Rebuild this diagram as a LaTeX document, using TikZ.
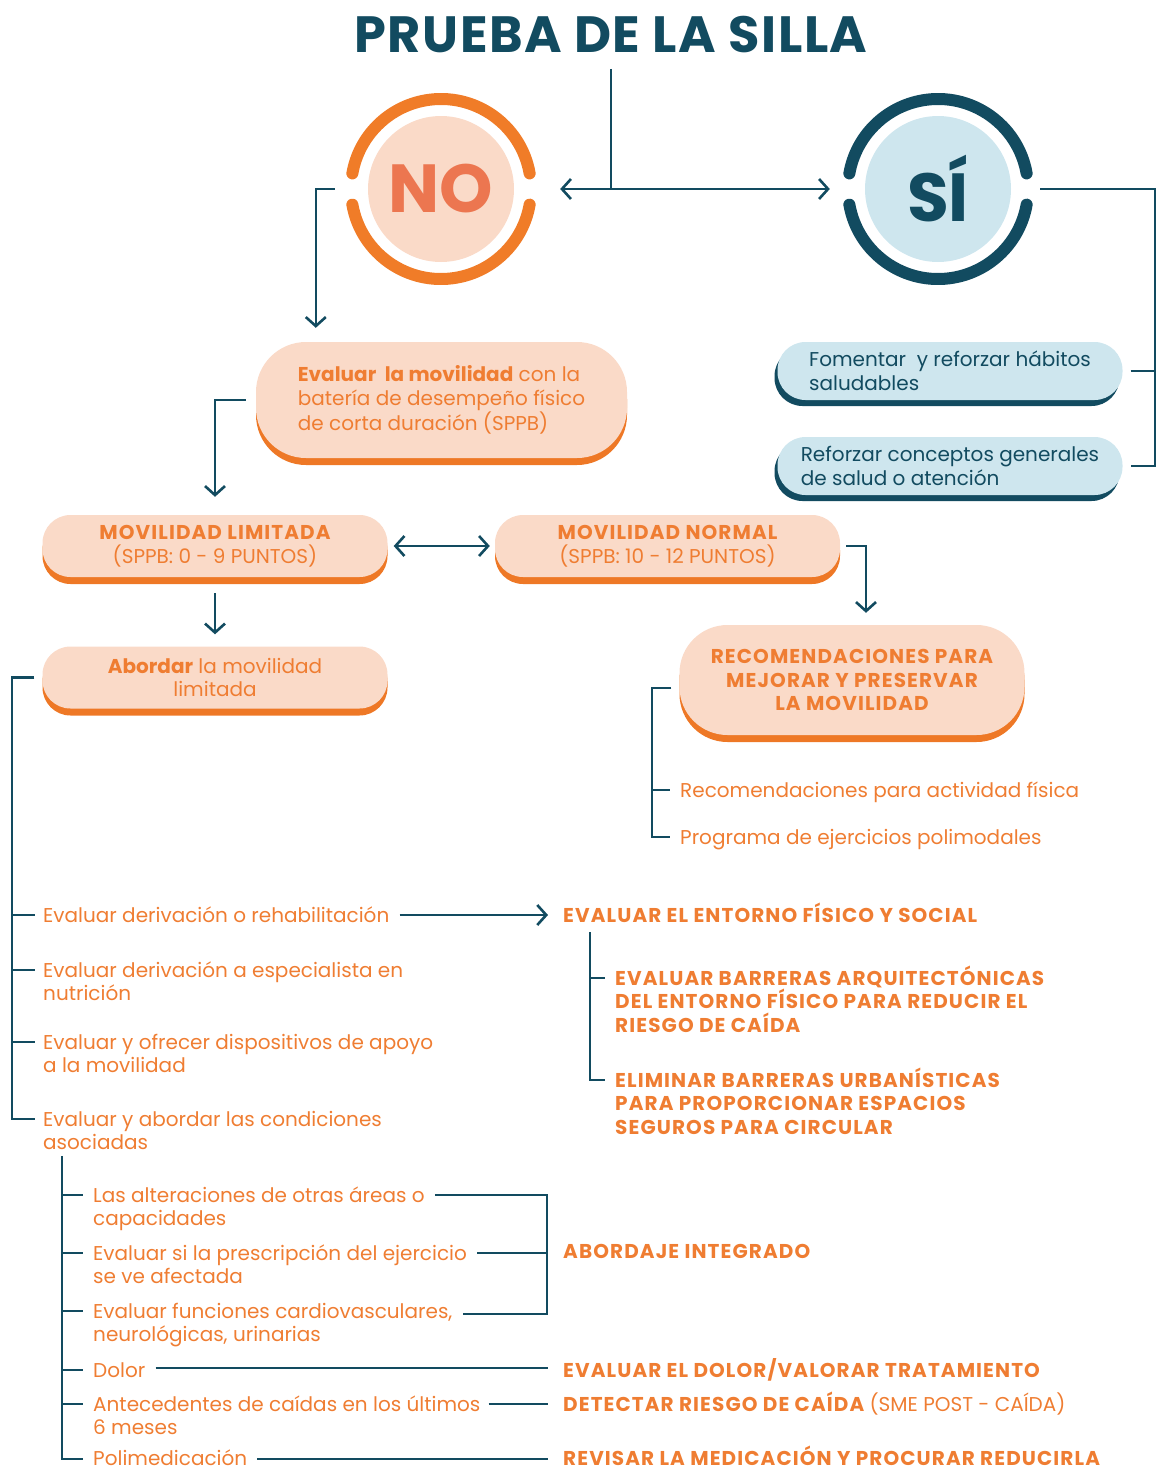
\documentclass[tikz,border=0pt]{standalone}
\usepackage{fontspec}
\setmainfont{Poppins}
\usetikzlibrary{arrows.meta,shadows}

\definecolor{tealD}{RGB}{18,75,96}
\definecolor{lightB}{RGB}{206,230,238}
\definecolor{orangeT}{RGB}{239,125,50}
\definecolor{orangeS}{RGB}{238,120,38}
\definecolor{ringO}{RGB}{240,124,40}
\definecolor{peach}{RGB}{250,218,200}
\definecolor{noO}{RGB}{236,118,80}

\newcommand\txtsize{\fontsize{20}{23.5}\selectfont}
\newcommand\capsb{\bfseries\addfontfeature{LetterSpace=5.5}}

\begin{document}
\begin{tikzpicture}
    [%%%%%%%%%%%%%%%%%%%%%%%%%%%%%%
        x=1pt, y=-1pt,
        line/.style={draw=tealD, line width=2.6pt},
        arr/.style={line, -{Straight Barb[length=9pt,width=20pt]}},
        arrs/.style={line, {Straight Barb[length=9pt,width=20pt]}-{Straight Barb[length=9pt,width=20pt]}},
        ring/.style={line width=12pt, line cap=round},
        pillbase/.style={rectangle, rounded corners=28pt, minimum width=345pt, minimum height=62pt,
            align=center, font=\txtsize},
        pill/.style={pillbase, fill=peach, text=orangeT,
            drop shadow={shadow xshift=0pt, shadow yshift=-7pt, fill=orangeS, opacity=1}},
        bluebox/.style={pillbase, fill=lightB, text=tealD, align=left, minimum height=58pt,
            drop shadow={shadow xshift=-3pt, shadow yshift=-6pt, fill=tealD, opacity=1}},
        disc/.style={circle, minimum size=146pt, inner sep=0pt, font=\fontsize{68}{70}\selectfont\bfseries},
        txt/.style={anchor=base west, inner sep=0pt, align=left, font=\txtsize, text=orangeT},
        headtxt/.style={txt, font=\txtsize\capsb},
    ]%%%%%%%%%%%%%%%%%%%%%%%%%%%%%%
\useasboundingbox (0,0) rectangle (1156,1470);

% title and the two answers
\node[font=\fontsize{51}{56}\selectfont\bfseries\addfontfeature{LetterSpace=3}, text=tealD] (title) at (611,35) {PRUEBA DE LA SILLA};
\node[disc, fill=peach, text=noO] (no) at (441,189) {NO};
\node[disc, fill=lightB, text=tealD] (si) at (938,189) {SÍ};
\foreach \a in {10,190} {
    \draw[ring, ringO] (no.center) ++(\a:90pt) arc (\a:\a+160:90pt);
    \draw[ring, tealD] (si.center) ++(\a:90pt) arc (\a:\a+160:90pt);
}
\coordinate (split) at (611,189);
\draw[line] ([yshift=-12pt]title.south) -- (split);
\draw[arr] (split) -- ([xshift=46pt]no.east);
\draw[arr] (split) -- ([xshift=-35pt]si.west);

% SI branch
\node[bluebox] (blue1) at (950,371) {Fomentar~ y reforzar hábitos\\saludables};
\node[bluebox] (blue2) at (950,466) {Reforzar conceptos generales\\de salud o atención};
\draw[line] ([xshift=29pt]si.east) -| ([xshift=33pt]blue2.east) -- ([xshift=8pt]blue2.east);
\draw[line] ([xshift=8pt]blue1.east) -- ([xshift=33pt]blue1.east);

% NO branch
\node[pill, minimum width=371pt, minimum height=116pt, rounded corners=50pt, align=left] (eval) at (441.5,400)
    {\textbf{Evaluar~ la movilidad} con la\\batería de desempeño físico\\de corta duración (SPPB)};
\node[pill] (limit) at (215,546) {{\capsb MOVILIDAD LIMITADA}\\(SPPB: 0 - 9 PUNTOS)};
\node[pill] (normal) at (667.5,546) {{\capsb MOVILIDAD NORMAL}\\(SPPB: 10 - 12 PUNTOS)};
\node[pill] (abordar) at (215,677.5) {\textbf{Abordar} la movilidad\\limitada};
\node[pill, minimum height=110pt, rounded corners=48pt, font=\txtsize\capsb] (recom) at (852,680)
    {RECOMENDACIONES PARA\\MEJORAR Y PRESERVAR\\LA MOVILIDAD};

\draw[arr] ([xshift=-33pt]no.west) -| ([xshift=60pt,yshift=14pt]eval.north west);
\draw[arr] ([xshift=-10pt]eval.west) -| ([yshift=18pt]limit.north);
\draw[arrs] ([xshift=6pt]limit.east) -- ([xshift=-5pt]normal.west);
\draw[arr] ([xshift=6pt]normal.east) -| ([xshift=14pt,yshift=12pt]recom.north);
\draw[arr] ([yshift=-16pt]limit.south) -- ([yshift=12pt]abordar.north);

% normal mobility
\node[txt] (rec1) at (680,797) {Recomendaciones para actividad física};
\node[txt] (rec2) at (680,844) {Programa de ejercicios polimodales};
\draw[line] ([xshift=-8pt,yshift=-8pt]recom.west) -| ([xshift=-28pt,yshift=7pt]rec2.base west) -- ([xshift=-10pt,yshift=7pt]rec2.base west);
\draw[line] ([xshift=-28pt,yshift=7pt]rec1.base west) -- ([xshift=-10pt,yshift=7pt]rec1.base west);

% limited mobility (base = last line)
\node[txt] (it1) at (43,922) {Evaluar derivación o rehabilitación};
\node[txt] (it2) at (43,1000.5) {Evaluar derivación a especialista en\\nutrición};
\node[txt] (it3) at (43,1072.5) {Evaluar y ofrecer dispositivos de apoyo\\a la movilidad};
\node[txt] (it4) at (43,1149.5) {Evaluar y abordar las condiciones\\asociadas};
\draw[line] ([xshift=-8pt]abordar.west) -| ([xshift=-31pt,yshift=30.5pt]it4.base west) -- ([xshift=-8pt,yshift=30.5pt]it4.base west);
\draw[line] ([xshift=-31pt,yshift=7pt]it1.base west) -- ([xshift=-8pt,yshift=7pt]it1.base west);
\foreach \n in {it2,it3}
    \draw[line] ([xshift=-31pt,yshift=30.5pt]\n.base west) -- ([xshift=-8pt,yshift=30.5pt]\n.base west);

\node[headtxt] (entorno) at (563,922) {EVALUAR EL ENTORNO FÍSICO Y SOCIAL};
\node[headtxt] (barr1) at (615,1032) {EVALUAR BARRERAS ARQUITECTÓNICAS\\DEL ENTORNO FÍSICO PARA REDUCIR EL\\RIESGO DE CAÍDA};
\node[headtxt] (barr2) at (615,1134) {ELIMINAR BARRERAS URBANÍSTICAS\\PARA PROPORCIONAR ESPACIOS\\SEGUROS PARA CIRCULAR};
\draw[arr] ([xshift=10pt,yshift=7pt]it1.base east) -- ([xshift=-15pt,yshift=7pt]entorno.base west);
\draw[line] ([xshift=27pt,yshift=-10pt]entorno.base west) |- ([xshift=-10pt,yshift=54pt]barr2.base west);
\draw[line] ([xshift=-25pt,yshift=54pt]barr1.base west) -- ([xshift=-10pt,yshift=54pt]barr1.base west);

% associated conditions
\node[txt] (sub1) at (93,1225.5) {Las alteraciones de otras áreas o\\capacidades};
\node[txt] (sub2) at (93,1283.5) {Evaluar si la prescripción del ejercicio\\se ve afectada};
\node[txt] (sub3) at (93,1341.5) {Evaluar funciones cardiovasculares,\\neurológicas, urinarias};
\node[txt] (sub4) at (93,1377) {Dolor};
\node[txt] (sub5) at (93,1434.5) {Antecedentes de caídas en los últimos\\6 meses};
\node[txt] (sub6) at (93,1465) {Polimedicación};
\draw[line] ([xshift=19pt,yshift=-6pt]it4.south west) |- ([xshift=-10pt,yshift=6pt]sub6.base west);
\foreach \n in {sub1,sub2,sub3,sub5}
    \draw[line] ([xshift=-31pt,yshift=30.5pt]\n.base west) -- ([xshift=-10pt,yshift=30.5pt]\n.base west);
\draw[line] ([xshift=-31pt,yshift=7pt]sub4.base west) -- ([xshift=-10pt,yshift=7pt]sub4.base west);

\node[headtxt] (abord) at (563,1258) {ABORDAJE INTEGRADO};
\node[headtxt] (dolorR) at (563,1377) {EVALUAR EL DOLOR/VALORAR TRATAMIENTO};
\node[headtxt] (caida) at (563,1411) {DETECTAR RIESGO DE CAÍDA {\mdseries\addfontfeature{LetterSpace=0}(SME POST - CAÍDA)}};
\node[headtxt] (medic) at (563,1465) {REVISAR LA MEDICACIÓN Y PROCURAR REDUCIRLA};
\draw[line] ([xshift=10pt,yshift=30.5pt]sub1.base east) -| ([xshift=-16pt,yshift=-56pt]abord.base west) -- ([xshift=10pt,yshift=27.5pt]sub3.base east);
\draw[line] ([xshift=10pt,yshift=30.5pt]sub2.base east) -- ([xshift=-16pt,yshift=5pt]abord.base west);
\draw[line] ([xshift=10pt,yshift=9pt]sub4.base east) -- ([xshift=-15pt,yshift=9pt]dolorR.base west);
\draw[line] ([xshift=8pt,yshift=30.5pt]sub5.base east) -- ([xshift=-15pt,yshift=7pt]caida.base west);
\draw[line] ([xshift=10pt,yshift=6pt]sub6.base east) -- ([xshift=-15pt,yshift=6pt]medic.base west);
\end{tikzpicture}
\end{document}
